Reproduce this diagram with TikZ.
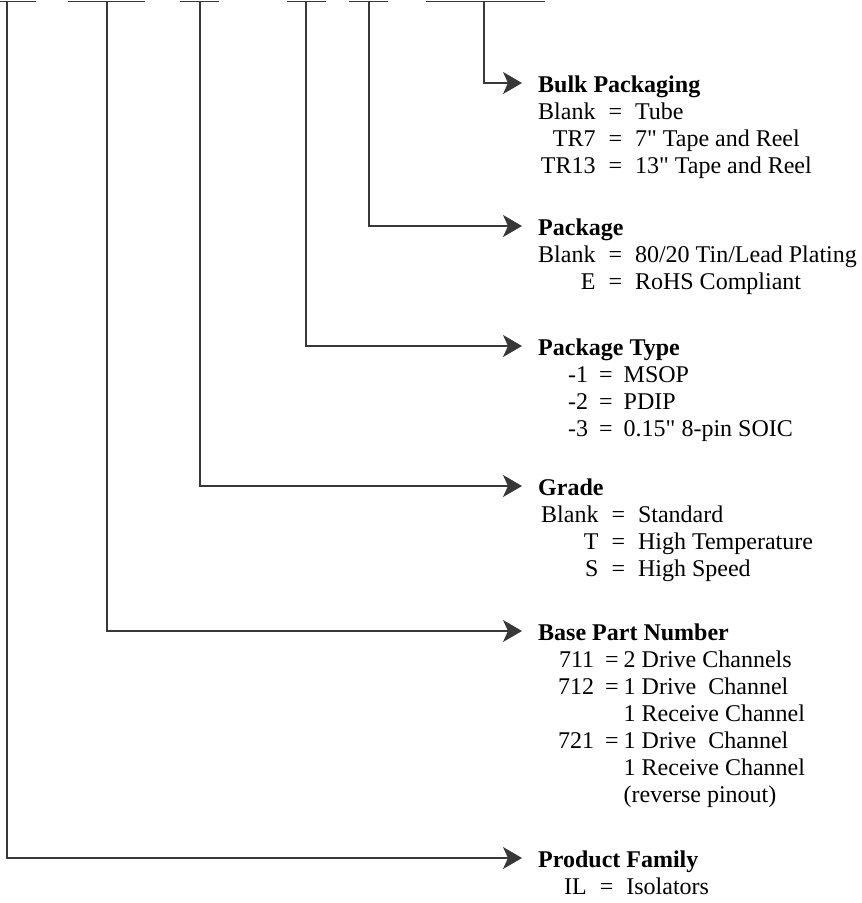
\documentclass[tikz,border=0pt]{standalone}
\usepackage{fontspec}
\setmainfont{Liberation Serif}[Ligatures=TeXOff]
\usetikzlibrary{arrows.meta}
\begin{document}
\begin{tikzpicture}[x=1pt,y=-1pt,
  lin/.style={draw=black!78, line width=1.3pt},
  arr/.style={lin, -{Stealth[length=19pt,width=22pt,inset=5pt]}},
  head/.style={anchor=base west, inner sep=0pt, font=\fontsize{24}{27}\selectfont\bfseries},
  tbl/.style={anchor=base west, inner sep=0pt, font=\fontsize{24}{27}\selectfont}
]
\useasboundingbox (0,0) rectangle (862,903);
% top part-number fields
\draw[lin] (0,1.5) -- (36,1.5);
\draw[lin] (68,1.5) -- (145,1.5);
\draw[lin] (180,1.5) -- (219,1.5);
\draw[lin] (287,1.5) -- (326,1.5);
\draw[lin] (349,1.5) -- (388,1.5);
\draw[lin] (426,1.5) -- (545,1.5);
\coordinate (t1) at (7,1.5);
\coordinate (t2) at (107,1.5);
\coordinate (t3) at (200,1.5);
\coordinate (t4) at (306,1.5);
\coordinate (t5) at (369,1.5);
\coordinate (t6) at (484,1.5);
% arrow ends
\coordinate (e6) at (522,83);
\coordinate (e5) at (522,226);
\coordinate (e4) at (522,346);
\coordinate (e3) at (522,486);
\coordinate (e2) at (522,631);
\coordinate (e1) at (522,858);
\draw[arr] (t6) |- (e6);
\draw[arr] (t5) |- (e5);
\draw[arr] (t4) |- (e4);
\draw[arr] (t3) |- (e3);
\draw[arr] (t2) |- (e2);
\draw[arr] (t1) |- (e1);
% Bulk packaging
\node[head] (h6) at (538,92) {Bulk Packaging};
\node[tbl] (l6) at (538,119) {\begin{tabular}[t]{@{}r@{\hspace{13pt}}c@{\hspace{13pt}}l@{}}
Blank & = & Tube\\
TR7 & = & 7" Tape and Reel\\
TR13 & = & 13" Tape and Reel
\end{tabular}};
% Package
\node[head] (h5) at (538,235) {Package};
\node[tbl] (l5) at (538,262) {\begin{tabular}[t]{@{}r@{\hspace{13pt}}c@{\hspace{13pt}}l@{}}
Blank & = & 80/20 Tin/Lead Plating\\
E & = & RoHS Compliant
\end{tabular}};
% Package type
\node[head] (h4) at (538,355) {Package Type};
\node[tbl] (l4) at (568,382) {\begin{tabular}[t]{@{}r@{\hspace{11pt}}c@{\hspace{11pt}}l@{}}
-1 & = & MSOP\\
-2 & = & PDIP\\
-3 & = & 0.15" 8-pin SOIC
\end{tabular}};
% Grade
\node[head] (h3) at (538,495) {Grade};
\node[tbl] (l3) at (541,522) {\begin{tabular}[t]{@{}r@{\hspace{13pt}}c@{\hspace{13pt}}l@{}}
Blank & = & Standard\\
T & = & High Temperature\\
S & = & High Speed
\end{tabular}};
% Base part number
\node[head] (h2) at (538,640) {Base Part Number};
\node[tbl] (l2) at (558,667) {\begin{tabular}[t]{@{}r@{\hspace{11pt}}c@{\hspace{5pt}}l@{}}
711 & = & 2 Drive Channels\\
712 & = & 1 Drive\ \ Channel\\
 & & 1 Receive Channel\\
721 & = & 1 Drive\ \ Channel\\
 & & 1 Receive Channel\\
 & & (reverse pinout)
\end{tabular}};
% Product family
\node[head] (h1) at (538,867) {Product Family};
\node[tbl] (l1) at (564,894) {\begin{tabular}[t]{@{}r@{\hspace{13pt}}c@{\hspace{13pt}}l@{}}
IL & = & Isolators
\end{tabular}};
\end{tikzpicture}
\end{document}
